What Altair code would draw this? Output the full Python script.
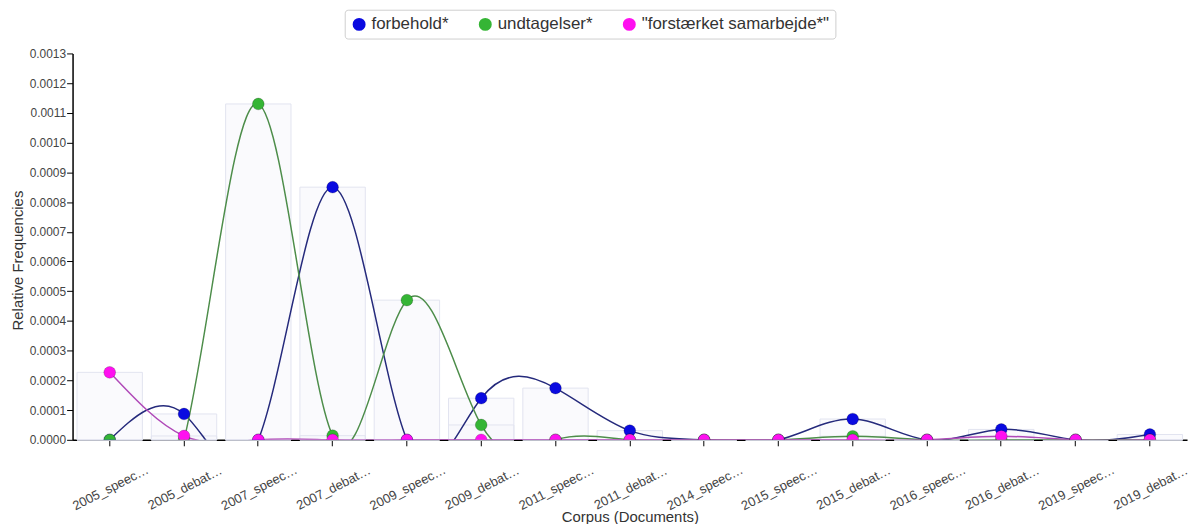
import altair as alt
import pandas as pd

categories = ["2005_speech", "2005_debate", "2007_speech", "2007_debate", "2009_speech",
              "2009_debate", "2011_speech", "2011_debate", "2014_speech", "2015_speech",
              "2015_debate", "2016_speech", "2016_debate", "2019_speech", "2019_debate"]
series_names = ["forbehold*", "undtagelser*", "\"forstærket samarbejde*\""]
forbehold = [0.0, 0.000087, 0.0, 0.00085, 0.0, 0.00014, 0.000174, 0.000031, 0.0, 0.0,
             0.00007, 0.0, 0.000035, 0.0, 0.000018]
undtagelser = [0.0, 0.0, 0.00113, 0.000014, 0.00047, 0.00005, 0.0, 0.0, 0.0, 0.0,
               0.000012, 0.0, 0.0, 0.0, 0.0]
samarbejde = [0.000227, 0.000013, 0.0, 0.0, 0.0, 0.0, 0.0, 0.0, 0.0, 0.0,
              0.0, 0.0, 0.000012, 0.0, 0.0]
point_colors = ["#0a0ae0", "#35b535", "#ff10f0"]
line_colors = ["#252a7c", "#4d8d4a", "#b04ab8"]
y_ticks = [round(i * 0.0001, 4) for i in range(14)]

rows = []
for name, vals in zip(series_names, [forbehold, undtagelser, samarbejde]):
    for c, v in zip(categories, vals):
        rows.append({"doc": c, "series": name, "value": v})
df = pd.DataFrame(rows)

FONT = "Liberation Sans"

x = alt.X("doc:N", sort=categories,
          scale=alt.Scale(type="band", paddingInner=0.12, paddingOuter=0.06),
          axis=alt.Axis(title="Corpus (Documents)", labelAngle=-27, labelAlign="center",
                        labelBaseline="middle", labelPadding=42, labelOffset=1,
                        labelExpr="slice(datum.label, 0, 10) + '…'",
                        labelFontSize=13, labelColor="#444", tickSize=6,
                        titleFontSize=15, titleFontWeight="normal", titleColor="#333",
                        titleY=77, titleBaseline="middle"))
y = alt.Y("value:Q", stack=None,
          scale=alt.Scale(domain=[0, 0.0013], nice=False),
          axis=alt.Axis(title="Relative Frequencies", values=y_ticks, format=".4f",
                        labelFontSize=12, labelColor="#444", tickSize=6, labelPadding=1,
                        titleFontSize=15, titleFontWeight="normal", titleColor="#333",
                        titleX=-55, titleY=208, titleBaseline="middle", titleAlign="center"))

base = alt.Chart(df)

bars = base.mark_bar(fill="#f5f6fb", fillOpacity=0.5, stroke="#e2e4f0", strokeWidth=1).encode(
    x=x, y=y)

line_layers = []
for name, col in zip(series_names, line_colors):
    line_layers.append(
        base.transform_filter(alt.datum.series == name)
        .mark_line(interpolate="natural", clip=True, strokeWidth=1.5, color=col)
        .encode(x=x, y=y)
    )

points = base.mark_point(filled=True, size=140, clip=True, opacity=1,
                         stroke="#00000033", strokeWidth=1).encode(
    x=x, y=y,
    fill=alt.Fill("series:N", sort=series_names,
                  scale=alt.Scale(domain=series_names, range=point_colors),
                  legend=alt.Legend(title=None, orient="none", legendX=274, legendY=-44,
                                    direction="horizontal", symbolType="circle",
                                    symbolSize=170, labelFontSize=17, labelColor="#333",
                                    labelFont=FONT, labelLimit=400, columnPadding=28,
                                    padding=6, strokeColor="#cfcfcf", cornerRadius=3,
                                    symbolStrokeWidth=0, labelOffset=4)))

chart = alt.layer(bars, *line_layers, points).properties(
    width=1122, height=389,
    autosize=alt.AutoSizeParams(type="none"),
    padding={"left": 65, "top": 44, "right": 5, "bottom": 83},
).configure(font=FONT).configure_view(stroke=None).configure_axis(
    grid=False, domainColor="#000", tickColor="#000", domainWidth=1.5, labelFont=FONT,
    titleFont=FONT)

chart.save("out.html", embed_options={"renderer": "svg", "actions": False})
